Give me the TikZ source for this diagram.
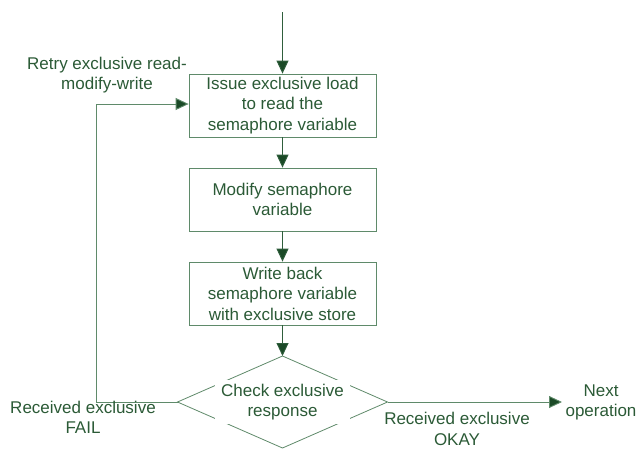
\documentclass[tikz,border=0pt]{standalone}
\usepackage{fontspec}
\setmainfont{Liberation Sans}
\usetikzlibrary{arrows.meta}
\definecolor{txt}{HTML}{2B5A36}
\definecolor{edge}{HTML}{5F8A6A}
\definecolor{flow}{HTML}{2F5E3C}
\definecolor{tip}{HTML}{1B4A27}
\begin{document}
\begin{tikzpicture}[x=1pt,y=-1pt,
  every node/.style={font=\fontsize{17}{20.5}\selectfont, text=txt, align=center, inner sep=0pt},
  stepbox/.style={draw=edge, line width=0.8pt, minimum width=187pt, minimum height=63pt},
  flowline/.style={draw=flow, line width=0.9pt, -{Triangle[length=13pt,width=12pt,fill=tip]}},
  plainline/.style={draw=edge, line width=0.8pt}]
\useasboundingbox (0,0) rectangle (639,448);

\node[stepbox] (load)   at (282.5,105.5) {Issue exclusive load\\to read the\\semaphore variable};
\node[stepbox] (modify) at (282.5,199.5) {Modify semaphore\\variable};
\node[stepbox] (store)  at (282.5,293.5) {Write back\\semaphore variable\\with exclusive store};

% decision diamond, its label on a white patch
\coordinate (dtop) at (282.5,356);
\coordinate (dright) at (387.5,402);
\coordinate (dbottom) at (282.5,448);
\coordinate (dleft) at (177.5,402);
\draw[plainline] (dtop) -- (dright) -- (dbottom) -- (dleft) -- cycle;
\node[fill=white, inner xsep=6pt, inner ysep=4pt] (check) at (282.5,402) {Check exclusive\\response};

\coordinate (entry) at (282.5,12);
\coordinate (next) at (562,402);
\coordinate (cornerB) at (96,402);
\coordinate (cornerT) at (96,104);

\draw[flowline] (entry) -- (load);
\draw[flowline] (load) -- (modify);
\draw[flowline] (modify) -- (store);
\draw[flowline] (store) -- (dtop);
\draw[flowline, draw=edge] (dright) -- (next);
\draw[flowline, draw=edge] (dleft) -- (cornerB) -- (cornerT) -- (load.west |- cornerT);

\node (retry) at (107,75) {Retry exclusive read-\\modify-write};
\node (fail)  at (83,417.5) {Received exclusive\\FAIL};
\node (okay)  at (457,429) {Received exclusive\\OKAY};
\node (nextop) at (601,402.5) {Next\\operation};
\end{tikzpicture}
\end{document}
